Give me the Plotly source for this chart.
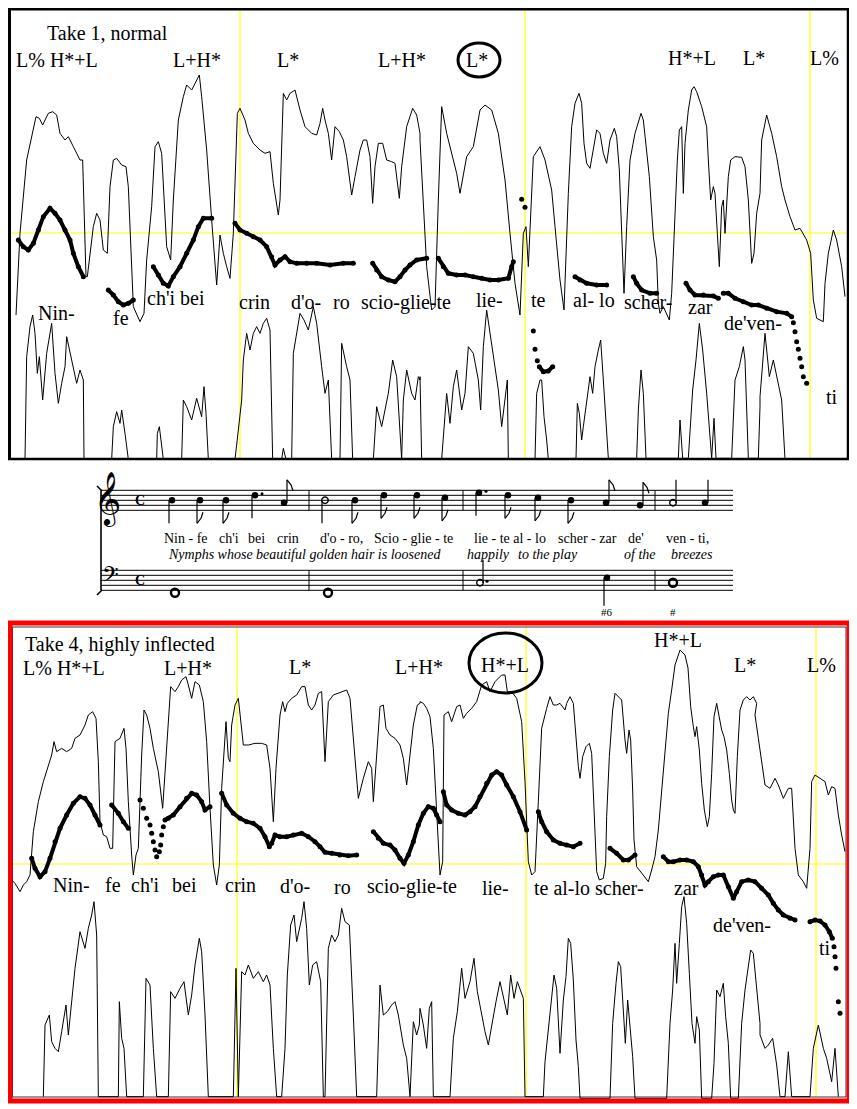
import plotly.graph_objects as go

# digitised off 3x blow-ups of the scan, points are (x, y) in blow-up pixels
# crop origins in page pixels: A=(0,0) B=(420,0) C=(0,615) D=(420,615) E=(560,60) F=(560,690)

# ---------------- Take 1, normal ----------------
t1_amp_a = [(48, 945), (60, 700), (80, 480), (108, 350), (118, 355), (128, 375), (145, 340), (158, 335),
            (170, 345), (180, 400), (195, 420), (205, 410), (220, 440), (240, 480), (248, 480), (258, 830),
            (262, 830), (280, 680), (290, 640), (300, 660), (310, 750), (322, 760), (330, 560), (340, 480),
            (350, 475), (365, 495), (378, 500), (385, 560), (400, 920), (420, 965), (432, 940), (440, 780),
            (455, 620), (465, 440), (475, 425), (485, 460), (500, 740), (512, 780), (520, 600), (535, 360),
            (550, 290), (560, 255), (575, 270), (590, 240), (598, 225), (605, 290), (620, 450), (635, 660),
            (650, 855), (660, 705), (670, 760), (680, 800), (690, 835), (700, 700), (712, 340), (720, 325),
            (735, 360), (745, 400), (760, 430), (780, 450), (795, 460), (810, 455), (820, 550), (835, 645),
            (840, 600), (850, 280), (860, 300), (870, 280), (885, 270), (900, 330), (915, 380), (935, 400),
            (950, 405), (960, 370), (968, 325), (975, 360), (985, 400), (995, 480), (1005, 380), (1018, 395),
            (1030, 420), (1040, 470), (1055, 585), (1065, 530), (1080, 450), (1090, 420), (1100, 420),
            (1110, 470), (1118, 610), (1125, 500), (1135, 430), (1148, 430), (1160, 480), (1175, 485),
            (1185, 490), (1198, 595), (1205, 500), (1220, 380), (1238, 325), (1250, 345), (1260, 400)]
t1_amp_b = [(0, 420), (10, 600), (20, 800), (35, 930), (45, 920), (55, 600), (65, 320), (80, 400), (95, 460),
            (110, 520), (120, 580), (130, 520), (140, 470), (160, 440), (180, 330), (195, 315), (215, 330),
            (235, 400), (255, 540), (270, 700), (285, 850), (300, 945), (310, 700), (318, 680), (325, 800),
            (340, 470), (360, 440), (375, 480), (395, 570), (405, 680), (420, 840), (432, 930), (445, 700),
            (460, 450), (475, 285), (490, 350), (505, 500), (512, 490), (525, 400), (535, 390), (545, 430),
            (555, 490), (565, 430), (580, 390), (590, 420), (600, 560), (610, 740), (625, 870), (640, 560),
            (660, 345), (680, 420), (695, 600), (710, 780), (730, 940), (745, 955), (760, 680), (772, 400),
            (780, 390), (788, 560), (795, 470), (805, 350), (822, 265), (840, 300), (860, 420), (875, 560),
            (882, 590), (888, 800), (895, 700), (905, 600), (912, 680), (920, 520), (935, 475), (960, 470),
            (972, 490), (985, 700), (995, 790), (1010, 650), (1025, 420), (1040, 345), (1055, 400),
            (1070, 470), (1085, 560), (1095, 600), (1110, 650), (1125, 690), (1140, 685), (1160, 720),
            (1172, 760), (1180, 900), (1190, 955), (1210, 965), (1215, 850), (1225, 760), (1240, 690),
            (1250, 720), (1265, 800), (1275, 890)]
t1_amp_e = [(12, 750), (25, 400), (35, 200), (45, 130), (57, 100), (65, 130), (72, 250), (80, 310), (90, 325),
            (100, 270), (110, 210), (120, 220), (130, 280), (140, 310), (150, 240), (163, 205), (170, 230),
            (178, 330), (185, 550), (192, 700), (200, 500), (210, 300), (225, 220), (243, 160), (250, 180),
            (258, 250), (268, 350), (280, 530), (290, 600), (295, 730), (300, 760), (310, 740), (320, 760),
            (328, 780), (335, 700), (345, 450), (352, 300), (358, 210), (365, 200), (370, 400), (375, 250),
            (385, 150), (395, 90), (402, 80), (410, 95), (425, 140), (440, 200), (445, 300), (452, 420),
            (460, 380), (465, 400), (472, 520), (478, 620), (485, 440), (490, 420), (495, 520), (500, 420),
            (505, 350), (512, 300), (525, 290), (545, 292), (555, 320), (565, 420), (575, 610), (582, 580),
            (590, 460), (600, 400)]
t1_low_a = [(75, 1378), (80, 1070), (90, 980), (98, 945), (105, 1000), (112, 1120), (118, 1070), (128, 1200),
            (140, 1060), (155, 970), (165, 1120), (175, 1210), (185, 1150), (195, 1100), (200, 1010),
            (215, 1080), (230, 1150), (240, 1110), (250, 1140), (252, 1378), (335, 1378), (340, 1280),
            (350, 1235), (360, 1270), (365, 1230), (375, 1300), (385, 1378), (470, 1378), (472, 1300),
            (478, 1280), (485, 1330), (490, 1378), (545, 1378), (550, 1200), (560, 1220), (575, 1260),
            (590, 1195), (605, 1250), (612, 1160), (618, 1240), (625, 1378), (705, 1378), (715, 1290),
            (725, 1200), (730, 1080), (740, 1000), (750, 1050), (760, 1000), (770, 980), (780, 1000),
            (790, 970), (800, 955), (810, 990), (818, 1378), (845, 1378), (850, 1345), (858, 1378),
            (875, 1378), (880, 1060), (900, 940), (912, 960), (925, 990), (940, 920), (950, 970), (965, 1100),
            (975, 1180), (985, 1140), (995, 1378), (1020, 1378), (1025, 1030), (1040, 1100), (1050, 1140),
            (1058, 1378), (1120, 1378), (1130, 1220), (1145, 1280), (1165, 1180), (1178, 1080), (1190, 1130),
            (1205, 1378), (1210, 1200), (1220, 1110), (1235, 1180), (1245, 1200), (1255, 1130), (1260, 1140)]
t1_low_b = [(0, 1130), (5, 1378), (65, 1378), (80, 1180), (90, 1270), (100, 1160), (110, 1110), (125, 1230),
            (135, 1180), (145, 1040), (160, 1060), (175, 1140), (182, 1230), (190, 1040), (200, 930),
            (210, 1000), (225, 1110), (235, 1170), (245, 1280), (255, 1200), (262, 1140), (265, 1378),
            (345, 1378), (350, 1180), (360, 1140), (365, 1140), (372, 1250), (380, 1320), (385, 1378),
            (470, 1378), (475, 1230), (490, 1260), (500, 1200), (515, 1130), (530, 1150), (545, 1020),
            (555, 1200), (565, 1378), (640, 1378), (650, 1200), (660, 1110), (670, 1200), (680, 1378),
            (770, 1378), (780, 1230), (795, 1260), (810, 1120), (825, 1050), (838, 970), (850, 1100),
            (860, 1250), (870, 1378), (930, 1378), (940, 1180), (955, 1120), (970, 1040), (980, 1170),
            (990, 1378), (1010, 1378), (1020, 1190), (1035, 1000), (1048, 1130), (1060, 1080), (1072, 1140),
            (1085, 1200), (1095, 1378)]
t1_low_e = [(48, 1195), (52, 1030), (58, 1060), (65, 1140), (70, 1100), (80, 1030), (90, 950), (98, 1000),
            (105, 920), (115, 870), (122, 840), (130, 960), (138, 1100), (145, 1195), (230, 1195), (235, 1050),
            (243, 930), (250, 1000), (258, 1195), (355, 1195), (360, 1080), (368, 1195), (385, 1195),
            (398, 990), (408, 900), (418, 790), (428, 870), (440, 1000), (455, 1195), (462, 1075), (468, 1195),
            (515, 1195), (525, 960), (538, 920), (550, 860), (555, 900), (565, 1195), (595, 1195), (600, 1040)]

# pitch track, crop A
t1_f0_a = [
    [(55, 720), (70, 740), (85, 750), (100, 730), (115, 690), (130, 650), (150, 625), (165, 640), (180, 660),
     (195, 690), (210, 720), (220, 760), (235, 800), (250, 830)],
    [(325, 870), (340, 885), (355, 905), (370, 915), (385, 910), (400, 900)],
    [(460, 800), (475, 825), (490, 850), (505, 858), (520, 830), (540, 800), (560, 760), (580, 720), (595, 680),
     (610, 655), (635, 655)],
    [(705, 670), (720, 690), (740, 700), (760, 710), (780, 720), (800, 740), (815, 770), (825, 795), (840, 780),
     (855, 770), (870, 785), (890, 790), (920, 790), (950, 790), (990, 795), (1030, 790), (1060, 790)],
    [(1118, 790), (1130, 810), (1145, 830), (1165, 840), (1185, 845), (1200, 830), (1215, 810), (1230, 795),
     (1250, 780), (1280, 775)],
]
# pitch track, crop B
t1_f0_b = [
    [(55, 775), (70, 800), (85, 820), (110, 825), (135, 825), (160, 830), (185, 835), (210, 840), (235, 840),
     (265, 835), (275, 800), (280, 785)],
    [(358, 1100), (370, 1115), (385, 1113), (398, 1100)],
    [(465, 830), (480, 840), (500, 850), (530, 855), (560, 855)],
    [(640, 830), (650, 850), (665, 870), (690, 880), (710, 880)],
    [(798, 850), (810, 870), (825, 885), (850, 885), (880, 888), (895, 895)],
    [(910, 880), (925, 880), (945, 895), (970, 905), (995, 915), (1015, 915), (1040, 925), (1070, 935),
     (1100, 940), (1115, 950)],
]
t1_f0_dots_b = [(305, 598), (315, 622), (340, 993), (345, 1048), (352, 1082), (1120, 968), (1125, 995),
                (1130, 1025), (1135, 1048), (1140, 1075), (1145, 1100), (1150, 1130), (1160, 1150)]

# ---------------- Take 4, highly inflected ----------------
t4_amp_c = [(30, 790), (45, 805), (60, 830), (70, 810), (80, 800), (90, 780), (100, 650), (115, 560), (130, 500),
            (145, 450), (155, 420), (162, 380), (170, 410), (185, 400), (200, 410), (215, 400), (225, 370),
            (240, 360), (255, 330), (265, 300), (278, 290), (288, 310), (295, 440), (300, 620), (310, 660),
            (320, 665), (330, 700), (338, 700), (345, 380), (360, 370), (372, 340), (378, 400), (385, 560),
            (395, 720), (400, 780), (408, 720), (415, 700), (425, 420), (432, 285), (440, 300), (450, 340),
            (460, 400), (475, 470), (488, 580), (495, 480), (505, 320), (512, 215), (525, 230), (535, 215),
            (545, 195), (558, 185), (565, 210), (575, 250), (585, 200), (598, 210), (610, 260), (620, 380),
            (630, 580), (640, 750), (650, 810), (658, 750), (665, 520), (678, 320), (685, 430), (690, 440),
            (695, 330), (705, 270), (715, 250), (722, 320), (730, 390), (745, 390), (765, 385), (785, 385),
            (800, 390), (810, 460), (820, 620), (828, 460), (840, 300), (848, 260), (855, 290), (862, 265),
            (875, 250), (890, 240), (905, 215), (915, 215), (925, 270), (935, 285), (945, 270), (955, 235),
            (965, 230), (975, 440), (985, 260), (1000, 240), (1015, 235), (1030, 230), (1040, 225), (1050, 250),
            (1060, 360), (1075, 550), (1090, 490), (1105, 440), (1115, 460), (1120, 560), (1130, 420),
            (1140, 275), (1150, 270), (1158, 340), (1170, 360), (1185, 370), (1200, 390), (1210, 430),
            (1220, 510), (1230, 420), (1240, 330), (1252, 270), (1260, 265)]
t4_amp_d = [(0, 260), (10, 265), (20, 280), (30, 305), (40, 400), (50, 600), (60, 780), (68, 740), (72, 300),
            (85, 290), (95, 320), (110, 275), (120, 270), (130, 310), (140, 295), (155, 280), (170, 260),
            (185, 210), (200, 200), (210, 230), (225, 200), (245, 180), (255, 180), (262, 230), (275, 230),
            (290, 250), (305, 320), (315, 500), (325, 740), (335, 780), (345, 770), (355, 560), (365, 340),
            (380, 280), (390, 245), (400, 270), (410, 270), (420, 265), (440, 240), (455, 250), (465, 300),
            (475, 420), (480, 490), (490, 430), (505, 390), (512, 380), (520, 540), (530, 720), (540, 790),
            (550, 790), (560, 570), (572, 400), (585, 235), (600, 260), (612, 340), (620, 410), (628, 350),
            (635, 490), (645, 700), (660, 780), (680, 800), (690, 750), (705, 600), (720, 460), (735, 300),
            (750, 230), (765, 150), (780, 105), (795, 120), (805, 160), (815, 330), (822, 380), (830, 360),
            (840, 430), (850, 560), (862, 635), (870, 560), (880, 400), (890, 270), (900, 355), (910, 450),
            (920, 370), (930, 520), (940, 600), (950, 550), (960, 400), (970, 255), (985, 240), (995, 255),
            (1005, 300), (1015, 370), (1025, 440), (1035, 510), (1050, 520), (1065, 490), (1075, 510),
            (1090, 550), (1105, 520), (1115, 520), (1125, 700), (1135, 780), (1150, 800), (1160, 820),
            (1170, 700), (1175, 500), (1185, 480), (1200, 490), (1215, 500), (1225, 540), (1235, 515),
            (1245, 520), (1255, 600), (1265, 660), (1275, 710)]
t4_amp_f = [(15, 60), (20, 40), (30, 20), (40, 40), (48, 150), (55, 230), (60, 265), (68, 200), (78, 170),
            (88, 160), (95, 190), (100, 300), (105, 450), (110, 545), (118, 570), (130, 565), (137, 520),
            (140, 380), (148, 200), (158, 60), (165, 10), (175, 20), (185, 30), (195, 150), (200, 190),
            (207, 120), (212, 150), (218, 300), (222, 450), (230, 530), (245, 550), (255, 560), (265, 575),
            (275, 540), (285, 500), (295, 420), (305, 300), (315, 170), (325, 70), (335, 0), (345, -75),
            (360, -120), (375, -105), (384, -66), (392, 50), (400, 110), (405, 140),
            (410, 110), (418, 180), (425, 280), (433, 360), (442, 410), (448, 380), (455, 250), (462, 80),
            (470, 40), (478, 80), (485, 120), (492, 140), (500, 180), (508, 250), (515, 330), (520, 360),
            (525, 370), (532, 200), (540, 60), (550, 30), (560, 20), (570, 30), (580, 20), (590, 40)]
t4_low_c = [(130, 1445), (135, 1230), (148, 1200), (155, 1280), (165, 1300), (175, 1310), (185, 1250),
            (198, 1170), (205, 1260), (218, 1130), (225, 1060), (240, 950), (255, 1000), (265, 940), (275, 900),
            (282, 860), (290, 960), (295, 1445), (355, 1445), (358, 1160), (365, 1270), (372, 1300), (380, 1445),
            (430, 1445), (438, 1090), (450, 1110), (460, 1300), (470, 1445), (505, 1445), (512, 1130),
            (525, 1150), (540, 1120), (552, 1100), (565, 1200), (575, 1140), (585, 1050), (598, 970),
            (605, 1010), (615, 1200), (625, 1445), (700, 1445), (708, 1060), (715, 1445), (725, 1070),
            (735, 1080), (745, 1050), (760, 1090), (775, 1070), (790, 1100), (800, 1080), (810, 1110),
            (820, 1300), (830, 1445), (845, 1445), (855, 1300), (862, 1080), (872, 930), (882, 900), (890, 980),
            (905, 910), (912, 860), (920, 940), (928, 1110), (938, 1050), (950, 1040), (962, 1100), (970, 1445),
            (975, 1445), (985, 1000), (995, 960), (1005, 980), (1015, 960), (1025, 880), (1035, 920),
            (1048, 930), (1060, 1200), (1070, 1445), (1130, 1445), (1140, 1110), (1150, 1200), (1162, 1190),
            (1175, 1170), (1185, 1160), (1195, 1200), (1210, 1290), (1220, 1330), (1230, 1445), (1240, 1220),
            (1250, 1260), (1258, 1230)]
t4_low_d = [(0, 1180), (10, 1230), (20, 1300), (28, 1180), (35, 1160), (40, 1445), (90, 1445), (100, 1270),
            (112, 1190), (125, 1060), (135, 1150), (150, 1100), (162, 1030), (172, 1130), (185, 1200),
            (195, 1250), (205, 1290), (215, 1230), (228, 1160), (240, 1100), (250, 1150), (262, 1200),
            (272, 1080), (282, 1150), (292, 1100), (300, 1120), (310, 1150), (315, 1445), (370, 1445),
            (375, 1340), (385, 1250), (395, 1150), (402, 1080), (410, 1120), (420, 1200), (432, 1050),
            (448, 965), (458, 1050), (465, 1200), (475, 1445), (495, 1445), (505, 1200), (520, 1160),
            (530, 1090), (540, 1120), (548, 1200), (555, 1445), (570, 1445), (580, 1300), (590, 1100),
            (597, 1040), (610, 1100), (620, 1200), (630, 1180), (640, 1445), (740, 1445), (750, 1200),
            (760, 1000), (775, 1050), (790, 850), (800, 990), (810, 1150), (820, 1200), (835, 1280),
            (840, 1445), (870, 1445), (880, 1300), (895, 1200), (908, 1110), (918, 1200), (925, 1445),
            (950, 1445), (960, 1230), (975, 1100), (990, 1000), (998, 1050), (1010, 1200), (1020, 1260),
            (1035, 1300), (1045, 1290), (1058, 1270), (1070, 1350), (1080, 1445), (1095, 1445), (1105, 1310),
            (1115, 1445), (1170, 1445), (1180, 1300), (1195, 1230), (1210, 1300), (1220, 1330), (1235, 1400),
            (1245, 1300), (1255, 1445)]
t4_low_f = [(0, 1090), (10, 930), (18, 860), (25, 745), (32, 760), (40, 870), (48, 1050), (55, 1130), (60, 1225),
            (150, 1225), (158, 1000), (168, 880), (175, 815), (182, 830), (190, 950), (196, 1060), (203, 930),
            (210, 1010), (218, 1100), (225, 1225), (320, 1225), (330, 1000), (338, 900), (345, 760), (350, 880),
            (358, 760), (365, 650), (372, 620), (380, 700), (388, 850), (396, 1000), (405, 1060), (410, 980),
            (418, 1020), (425, 1225), (455, 1225), (462, 1120), (470, 900), (480, 920), (490, 880), (497, 980),
            (505, 1060), (512, 1225), (535, 1225), (545, 1000), (555, 900), (565, 820), (572, 780), (580, 790),
            (590, 900), (597, 960), (600, 1000)]

t4_f0_c = [
    [(95, 730), (105, 760), (120, 785), (135, 770), (150, 730), (165, 680), (180, 640), (200, 600), (220, 565),
     (240, 545), (255, 550), (270, 570), (285, 600), (300, 630)],
    [(335, 570), (355, 595), (370, 620), (385, 640)],
    [(495, 615), (505, 610), (520, 600), (540, 575), (560, 550), (575, 535), (590, 540), (605, 560), (615, 585),
     (630, 575)],
    [(665, 535), (680, 570), (700, 595), (720, 610), (740, 620), (760, 625), (780, 640), (795, 665), (808, 695),
     (815, 685), (825, 660), (840, 665), (860, 665), (880, 660), (905, 655), (925, 665), (945, 680), (960, 695),
     (975, 712), (995, 715), (1020, 720), (1045, 722), (1070, 720)],
    [(1120, 650), (1135, 670), (1150, 685), (1170, 690), (1185, 705), (1200, 730), (1212, 745), (1225, 720),
     (1240, 680), (1255, 630), (1270, 595), (1285, 575), (1300, 580), (1310, 600), (1320, 620)],
]
t4_f0_dots_c = [(420, 555), (430, 580), (440, 610), (450, 630), (455, 655), (460, 680), (465, 705), (470, 725),
                (478, 710), (482, 690), (485, 660), (490, 635)]
t4_f0_d = [
    [(70, 530), (80, 570), (95, 585), (115, 595), (135, 600), (150, 590), (165, 575), (180, 545), (200, 505),
     (215, 480), (230, 470), (245, 480), (260, 510), (280, 545), (300, 590), (320, 645)],
    [(355, 590), (365, 620), (380, 650), (400, 675), (420, 685), (440, 690), (460, 695), (480, 685)],
    [(570, 700), (590, 715), (610, 735), (625, 735), (645, 720)],
    [(730, 725), (745, 740), (760, 740), (780, 735), (800, 735), (820, 740), (835, 755), (845, 780), (855, 810),
     (865, 800), (880, 785), (895, 780), (910, 780), (925, 815), (940, 850), (950, 830), (965, 800), (985, 795),
     (1005, 800), (1025, 820), (1045, 840), (1060, 865), (1075, 885), (1090, 900), (1110, 910), (1125, 915)],
    [(1170, 920), (1185, 915), (1200, 918), (1215, 930), (1228, 950), (1237, 970)],
]
t4_f0_dots_d = [(1242, 995), (1245, 1025), (1248, 1060), (1255, 1160), (1260, 1195)]

# ---------------- labels (page pixels, left edge / centre line) ----------------
t1_tones = ["L% H*+L", "L+H*", "L*", "L+H*", "L*", "H*+L", "L*", "L%"]
t1_tone_x = [15, 172, 276, 377, 465, 667, 742, 809]
t1_tone_y = [60, 60, 60, 60, 60, 58, 58, 58]
t1_syl = ["Nin-", "fe", "ch'i bei", "crin", "d'o-", "ro", "scio-glie-te", "lie-", "te", "al- lo",
          "scher-", "zar", "de'ven-", "ti"]
t1_syl_x = [37, 112, 146, 238, 290, 332, 360, 475, 530, 572, 623, 687, 723, 825]
t1_syl_y = [313, 318, 298, 302, 302, 302, 302, 300, 300, 300, 302, 307, 323, 397]

t4_tones = ["L% H*+L", "L+H*", "L*", "L+H*", "H*+L", "H*+L", "L*", "L%"]
t4_tone_x = [22, 163, 288, 394, 480, 653, 733, 806]
t4_tone_y = [668, 668, 667, 667, 665, 640, 665, 665]
t4_syl = ["Nin-", "fe", "ch'i", "bei", "crin", "d'o-", "ro", "scio-glie-te", "lie-", "te al-lo scher-",
          "zar", "de'ven-", "ti"]
t4_syl_x = [52, 104, 130, 171, 224, 279, 333, 366, 481, 533, 673, 712, 818]
t4_syl_y = [885, 885, 885, 885, 885, 886, 887, 886, 888, 888, 888, 925, 948]

# ---------------- score ----------------
treble_x = [172, 200, 226, 255, 284, 325, 355, 384, 417, 445, 479, 508, 538, 571, 606, 640, 673, 705]
treble_step = [4, 4, 4, 6, 3, 4, 4, 6, 6, 5, 7, 6, 5, 4, 3, 2, 3, 3]   # 0 = bottom line (E4)
treble_dur = ['q', 'e', 'e', 'dq', 'e', 'h', 'e', 'e', 'e', 'e', 'dq', 'e', 'e', 'e', 'e', 'e', 'h', 'q']
treble_stem = [-1, -1, -1, -1, 1, -1, -1, -1, -1, -1, -1, -1, -1, -1, 1, 1, 1, 1]
bass_x = [175, 328, 480, 607, 673]
bass_step = [-1, -1, 3, 5, 3]
bass_dur = ['w', 'w', 'dh', 'q', 'w']
bass_stem = [0, 0, 1, -1, 0]
bar_x = [309, 463, 655]
figures = ["#6", "#"]
figures_x = [607, 673]

lyric = ["Nin - fe", "ch'i", "bei", "crin", "d'o - ro,", "Scio - glie - te", "lie - te al - lo",
         "scher - zar", "de'", "ven - ti,"]
lyric_x = [163, 218, 247, 276, 319, 373, 473, 557, 627, 665]
gloss = ["Nymphs whose beautiful golden hair is loosened", "happily", "to the play", "of the", "breezes"]
gloss_x = [167, 466, 517, 623, 670]

SERIF = "Liberation Serif"
TREBLE_BOTTOM, BASS_BOTTOM, HALF = 510.3, 590.3, 2.5
PAGE_W, PAGE_H, BODY = 857, 1109, 8   # browser puts the plot 8px in from the page corner


def page(pts, ox, oy, lo=-1e9, hi=1e9):
    xs, ys = [], []
    for p in pts:
        x = ox + p[0] / 3
        if lo <= x <= hi:
            xs.append(x)
            ys.append(oy + p[1] / 3)
    return xs, ys


def joined(*parts):
    xs, ys = [], []
    for part in parts:
        px, py = page(*part)
        xs += px
        ys += py
    return xs, ys


fig = go.Figure()


def add_line(xs, ys, width=1.0):
    fig.add_trace(go.Scatter(x=xs, y=ys, mode='lines', line=dict(color='black', width=width),
                             hoverinfo='skip'))


def add_f0(seg, ox, oy):
    xs, ys = page(seg, ox, oy)
    fig.add_trace(go.Scatter(x=xs, y=ys, mode='lines+markers', line=dict(color='black', width=4),
                             marker=dict(color='black', size=5), hoverinfo='skip'))


def add_dots(pts, ox, oy):
    xs, ys = page(pts, ox, oy)
    fig.add_trace(go.Scatter(x=xs, y=ys, mode='markers', marker=dict(color='black', size=5),
                             hoverinfo='skip'))


# envelopes (crops E and F replace B and D in the middle stretch)
add_line(*joined((t1_amp_a, 0, 0), (t1_amp_b, 420, 0, -1e9, 560), (t1_amp_e, 560, 60),
                 (t1_amp_b, 420, 0, 761, 1e9)))
add_line(*joined((t1_low_a, 0, 0), (t1_low_b, 420, 0, -1e9, 560), (t1_low_e, 560, 60),
                 (t1_low_b, 420, 0, 760, 1e9)))
add_line(*joined((t4_amp_c, 0, 615), (t4_amp_d, 420, 615, -1e9, 560), (t4_amp_f, 560, 690),
                 (t4_amp_d, 420, 615, 755, 1e9)))
add_line(*joined((t4_low_c, 0, 615), (t4_low_d, 420, 615, -1e9, 557), (t4_low_f, 560, 690),
                 (t4_low_d, 420, 615, 760, 1e9)))

for seg in t1_f0_a:
    add_f0(seg, 0, 0)
for seg in t1_f0_b:
    add_f0(seg, 420, 0)
add_dots(t1_f0_dots_b, 420, 0)
for seg in t4_f0_c:
    add_f0(seg, 0, 615)
for seg in t4_f0_d:
    add_f0(seg, 420, 615)
add_dots(t4_f0_dots_c, 0, 615)
add_dots(t4_f0_dots_d, 420, 615)

# ---- notes ----
stem_x, stem_y = [], []
heads = {'fill': ([], []), 'open': ([], []), 'whole': ([], [])}
dots_x, dots_y = [], []
for xs, steps, durs, stems, bottom in [(treble_x, treble_step, treble_dur, treble_stem, TREBLE_BOTTOM),
                                       (bass_x, bass_step, bass_dur, bass_stem, BASS_BOTTOM)]:
    for x, st, d, sd in zip(xs, steps, durs, stems):
        y = bottom - st * HALF
        kind = 'whole' if d == 'w' else ('open' if d in ('h', 'dh') else 'fill')
        heads[kind][0].append(x)
        heads[kind][1].append(y)
        if d.startswith('d'):
            dots_x.append(x + 7)
            dots_y.append(y - 1.5)
        if sd == 0:
            continue
        length = 28 if (bottom == BASS_BOTTOM and sd < 0) else 23
        sx = x + 3 if sd > 0 else x - 3
        ye = y - length if sd > 0 else y + length
        stem_x += [sx, sx, None]
        stem_y += [y, ye, None]
        if d == 'e':
            k = 1 if sd > 0 else -1
            stem_x += [sx, sx + 4, sx + 6, None]
            stem_y += [ye, ye + 5 * k, ye + 11 * k, None]

add_line(stem_x, stem_y, 1.2)
fig.add_trace(go.Scatter(x=heads['fill'][0], y=heads['fill'][1], mode='markers',
                         marker=dict(color='black', size=6.5), hoverinfo='skip'))
fig.add_trace(go.Scatter(x=heads['open'][0], y=heads['open'][1], mode='markers',
                         marker=dict(color='black', size=6.5, symbol='circle-open', line=dict(width=1.4)),
                         hoverinfo='skip'))
fig.add_trace(go.Scatter(x=heads['whole'][0], y=heads['whole'][1], mode='markers',
                         marker=dict(color='black', size=8, symbol='circle-open', line=dict(width=2.4)),
                         hoverinfo='skip'))
fig.add_trace(go.Scatter(x=dots_x, y=dots_y, mode='markers', marker=dict(color='black', size=3),
                         hoverinfo='skip'))

shapes = []


def seg(x0, y0, x1, y1, color='black', width=1.0, layer='above'):
    shapes.append(dict(type='line', xref='x', yref='y', x0=x0, y0=y0, x1=x1, y1=y1, layer=layer,
                       line=dict(color=color, width=width)))


# staff
for bottom in (TREBLE_BOTTOM, BASS_BOTTOM):
    for i in range(5):
        seg(101, bottom - i * 2 * HALF, 733, bottom - i * 2 * HALF, width=1)
    for bx in bar_x:
        seg(bx, bottom - 8 * HALF, bx, bottom, width=1)
seg(101, TREBLE_BOTTOM - 8 * HALF, 101, BASS_BOTTOM, width=1.6)
seg(97, 486, 102, 491, width=1.6)
seg(97, 595, 102, 590, width=1.6)

# yellow guides
for gx in (240, 525, 810):
    seg(gx, 0, gx, 459, '#ffff00', 1.2, 'below')
seg(9, 233, 850, 233, '#ffff00', 1.2, 'below')
for gx in (237, 526, 816):
    seg(gx, 627, gx, 1097, '#ffff00', 1.2, 'below')
seg(9, 864, 846, 864, '#ffff00', 1.2, 'below')

# frames (top/left edges nudged inside the visible area)
seg(9, 9.3, 849, 9.3, width=2.5)
seg(9.5, 8, 9.5, 460, width=3)
seg(848, 8, 848, 460, width=2.5)
seg(8, 459, 849, 459, width=2.5)
shapes.append(dict(type='rect', xref='x', yref='y', x0=12.5, y0=627, x1=846, y1=1097,
                   line=dict(color='black', width=0.8)))
shapes.append(dict(type='rect', xref='x', yref='y', x0=10, y0=623, x1=849, y1=1101,
                   line=dict(color='#ff0000', width=5)))
# circled accents
shapes.append(dict(type='circle', xref='x', yref='y', x0=458, y0=43, x1=500, y1=77,
                   line=dict(color='black', width=3)))
shapes.append(dict(type='circle', xref='x', yref='y', x0=469, y0=633, x1=542, y1=693,
                   line=dict(color='black', width=3)))

ann = []


def label(text, x, y, size=20, italic=False, family=SERIF, anchor='left'):
    ann.append(dict(text=f"<i>{text}</i>" if italic else text, x=x, y=y, xref='x', yref='y',
                    xanchor=anchor, yanchor='middle', showarrow=False, borderpad=0,
                    font=dict(family=family, size=size, color='black')))


label("Take 1, normal", 46, 33)
label("Take 4, highly inflected", 24, 644)
for t, x, y in zip(t1_tones, t1_tone_x, t1_tone_y):
    label(t, x, y)
for t, x, y in zip(t1_syl, t1_syl_x, t1_syl_y):
    label(t, x, y)
for t, x, y in zip(t4_tones, t4_tone_x, t4_tone_y):
    label(t, x, y)
for t, x, y in zip(t4_syl, t4_syl_x, t4_syl_y):
    label(t, x, y)
for t, x in zip(lyric, lyric_x):
    label(t, x, 538, size=14)
for t, x in zip(gloss, gloss_x):
    label(t, x, 554, size=14, italic=True)
for t, x in zip(figures, figures_x):
    label(t, x, 612, size=11, anchor='center')
label("\U0001D11E", 107, 499, size=46, family="DejaVu Sans", anchor='center')
label("\U0001D122", 110, 577, size=26, family="DejaVu Sans", anchor='center')
label("<b>C</b>", 140, 500, size=14, anchor='center')
label("<b>C</b>", 140, 580, size=14, anchor='center')

fig.update_layout(
    width=PAGE_W - BODY, height=PAGE_H - BODY, margin=dict(l=0, r=0, t=0, b=0),
    paper_bgcolor='white', plot_bgcolor='white', showlegend=False,
    xaxis=dict(range=[BODY, PAGE_W], visible=False, fixedrange=True),
    yaxis=dict(range=[PAGE_H, BODY], visible=False, fixedrange=True),
    shapes=shapes, annotations=ann,
)

fig.write_html("out.html")
